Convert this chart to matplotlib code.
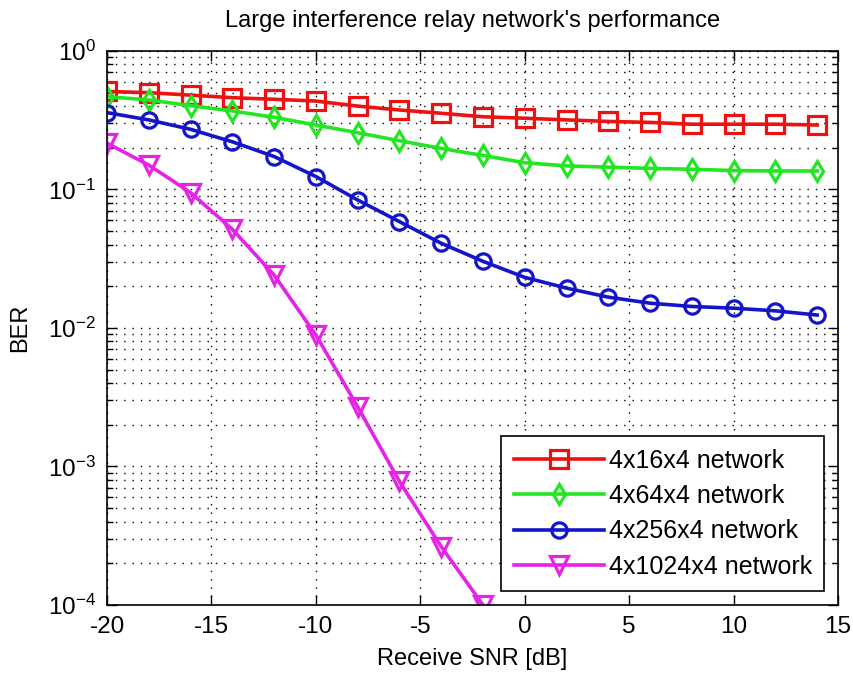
import numpy as np
import matplotlib
matplotlib.use('Agg')
from matplotlib import pyplot as plt
from matplotlib.ticker import LogLocator, NullLocator, FixedLocator

plt.rcParams['font.family'] = ['Liberation Sans', 'DejaVu Sans']
plt.rcParams['mathtext.fontset'] = 'custom'
plt.rcParams['mathtext.rm'] = 'Liberation Sans'
plt.rcParams['mathtext.default'] = 'regular'
plt.rcParams['axes.unicode_minus'] = False

snr = np.arange(-20, 16, 2)

ber_16 = [0.51, 0.50, 0.48, 0.46, 0.448, 0.435, 0.40, 0.375, 0.355, 0.335,
          0.327, 0.318, 0.31, 0.305, 0.296, 0.296, 0.296, 0.292]
ber_64 = [0.468, 0.443, 0.403, 0.369, 0.332, 0.292, 0.257, 0.225, 0.198, 0.176,
          0.156, 0.148, 0.145, 0.142, 0.14, 0.137, 0.136, 0.136]
ber_256 = [0.359, 0.318, 0.272, 0.221, 0.173, 0.124, 0.084, 0.0586, 0.0409, 0.0303,
           0.0232, 0.0194, 0.0167, 0.0151, 0.0143, 0.0139, 0.0133, 0.0124]
ber_1024 = [0.216, 0.150, 0.095, 0.0516, 0.0241, 0.0089, 0.0027, 7.8e-4, 2.64e-4, 1.0e-4]

labels = ['4x16x4 network', '4x64x4 network', '4x256x4 network', '4x1024x4 network']
colors = ['#ee1111', '#22e622', '#1414c8', '#e622e6']
markers = ['s', 'd', 'o', 'v']
msizes = [13, 10, 11, 13]

fig = plt.figure(figsize=(8.54, 6.78), dpi=100)
ax = fig.add_axes([0.1253, 0.1077, 0.8560, 0.8171])

series = [ber_16, ber_64, ber_256, ber_1024]
for ys, lab, c, m, ms in zip(series, labels, colors, markers, msizes):
    ax.semilogy(snr[:len(ys)], ys, color=c, marker=m, markersize=ms,
                markerfacecolor='none', markeredgecolor=c, markeredgewidth=2.3,
                linewidth=2.6, label=lab)

ax.set_xlim(-20, 15)
ax.set_ylim(1e-4, 1)
ax.xaxis.set_major_locator(FixedLocator(np.arange(-20, 16, 5)))
ax.xaxis.set_minor_locator(NullLocator())
ax.yaxis.set_major_locator(LogLocator(base=10, numticks=10))
ax.yaxis.set_minor_locator(LogLocator(base=10, subs=np.arange(2, 10), numticks=10))

ax.grid(which='major', axis='both', color='k', linestyle=(0, (1, 5)), linewidth=1)
ax.grid(which='minor', axis='y', color='k', linestyle=(0, (1, 5)), linewidth=1)

ax.tick_params(which='both', direction='in', top=True, right=True, labelsize=17.5,
               width=1, color='k')
ax.tick_params(which='major', length=7, pad=8)
ax.tick_params(which='minor', length=4)
for s in ax.spines.values():
    s.set_linewidth(1.2)

ax.set_title("Large interference relay network's performance", fontsize=17, pad=17)
ax.set_xlabel('Receive SNR [dB]', fontsize=17, labelpad=7)
ax.set_ylabel('BER', fontsize=17, labelpad=12)

leg = ax.legend(loc='lower right', fontsize=18, handlelength=3.6, fancybox=False,
                framealpha=1, edgecolor='k', borderaxespad=0.55, labelspacing=0.45,
                handletextpad=0.2, borderpad=0.5)
leg.get_frame().set_linewidth(1.2)

fig.savefig('out.png', dpi=100)
